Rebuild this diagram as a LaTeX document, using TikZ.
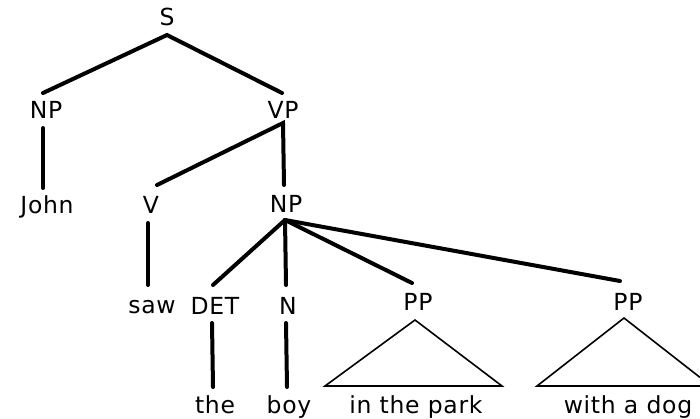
\documentclass[tikz,border=0pt]{standalone}
\usepackage{fontspec}
\setmainfont{DejaVu Sans}[LetterSpace=3]
\begin{document}
\begin{tikzpicture}[x=1pt,y=-1pt,
  lbl/.style={anchor=base, inner sep=0pt, font=\fontsize{23.5}{28}\selectfont},
  edge/.style={line width=4pt, line cap=round},
  tri/.style={line width=1.6pt, line join=miter}]
\useasboundingbox (0,0) rectangle (700,418);
\clip (0,0) rectangle (700,418);
% labels
\node[lbl] (S) at (167,25) {S};
\node[lbl] (NP1) at (46,118) {NP};
\node[lbl] (VP) at (283,118) {VP};
\node[lbl] (John) at (47,213) {John};
\node[lbl] (V) at (151,213) {V};
\node[lbl] (NP2) at (286,212) {NP};
\node[lbl] (saw) at (152,313) {saw};
\node[lbl] (DET) at (215,314) {DET};
\node[lbl] (N) at (288,314) {N};
\node[lbl] (PP1) at (418,310) {PP};
\node[lbl] (PP2) at (628,310) {PP};
\node[lbl] (the) at (215,413) {the};
\node[lbl] (boy) at (289,413) {boy};
\node[lbl] (park) at (416,413) {in the park};
\node[lbl] (dog) at (628,413) {with a dog};
% edge end points
\coordinate (Sb) at (167,35);
\coordinate (NP1t) at (43,93);
\coordinate (VPt) at (282,93);
\coordinate (NP1b) at (43,128);
\coordinate (Johnt) at (43,188);
\coordinate (VPb) at (283,123);
\coordinate (Vt) at (157,185);
\coordinate (NP2t) at (284,185);
\coordinate (Vb) at (148,223);
\coordinate (sawt) at (148,285);
\coordinate (NP2b) at (285,220);
\coordinate (DETt) at (213,285);
\coordinate (Nt) at (286,285);
\coordinate (PP1t) at (412,283);
\coordinate (PP2t) at (620,281);
\coordinate (DETb) at (212,323);
\coordinate (thet) at (213,387);
\coordinate (Nb) at (286,323);
\coordinate (boyt) at (287,387);
\coordinate (T1a) at (415,320);
\coordinate (T1l) at (325,386);
\coordinate (T1r) at (502,386);
\coordinate (T2a) at (624,318);
\coordinate (T2l) at (537,386);
\coordinate (T2r) at (711,386);
% edges
\draw[edge] (NP1t) -- (Sb) -- (VPt);
\draw[edge] (NP1b) -- (Johnt);
\draw[edge] (Vt) -- (VPb) -- (NP2t);
\draw[edge] (Vb) -- (sawt);
\draw[edge] (NP2b) -- (DETt);
\draw[edge] (NP2b) -- (Nt);
\draw[edge] (NP2b) -- (PP1t);
\draw[edge] (NP2b) -- (PP2t);
\draw[edge] (DETb) -- (thet);
\draw[edge] (Nb) -- (boyt);
\draw[tri] (T1a) -- (T1l) -- (T1r) -- cycle;
\draw[tri] (T2a) -- (T2l) -- (T2r) -- cycle;
\end{tikzpicture}
\end{document}
